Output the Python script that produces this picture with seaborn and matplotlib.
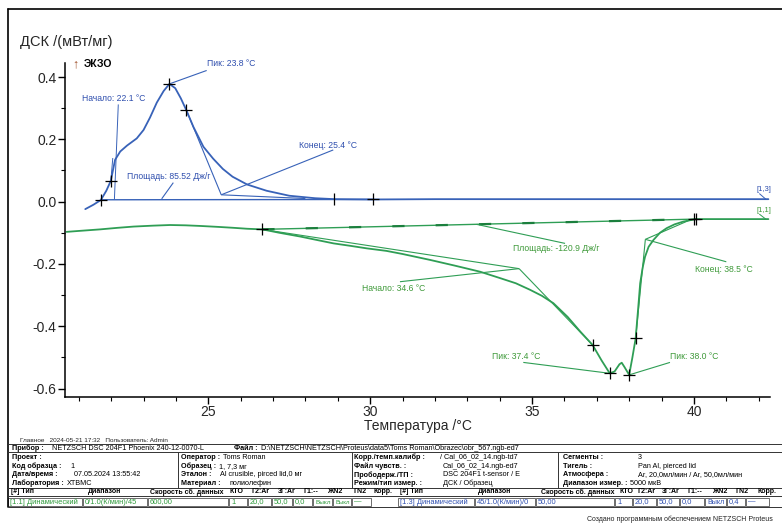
import numpy as np
import pandas as pd
import matplotlib
matplotlib.use("Agg")
import matplotlib.pyplot as plt
from matplotlib.ticker import MultipleLocator
import seaborn as sns

# ---- measured curves -------------------------------------------------------
# segment [1.3]: heating, exothermic peak
heat_temp = [21.20, 21.45, 21.68, 21.85, 21.99, 22.12, 22.28, 22.49, 22.79, 23.00,
             23.20, 23.41, 23.62, 23.80, 23.98, 24.15, 24.32, 24.54, 24.85, 25.15,
             25.45, 25.75, 26.20, 26.80, 27.50, 28.30, 28.90, 30.10, 32.00, 34.00,
             36.00, 38.00, 40.00, 42.30]
heat_dsc = [-0.024, -0.010, 0.005, 0.035, 0.067, 0.134, 0.161, 0.180, 0.203, 0.230,
            0.270, 0.318, 0.355, 0.378, 0.364, 0.332, 0.294, 0.240, 0.176, 0.138,
            0.105, 0.080, 0.055, 0.035, 0.019, 0.011, 0.008, 0.007, 0.008, 0.008,
            0.008, 0.008, 0.008, 0.008]

# segment [1.1]: dynamic 0/1.0 K/min, endothermic double peak
cool_temp = [20.62, 21.00, 21.66, 22.20, 22.69, 23.30, 23.82, 24.30, 24.75, 25.30,
             25.78, 26.20, 26.67, 27.20, 27.84, 28.40, 28.87, 29.40, 29.90, 30.50,
             31.00, 31.85, 32.60, 33.40, 34.00, 34.50, 34.94, 35.30, 35.66, 36.10,
             36.49, 36.87, 37.15, 37.40, 37.55, 37.70, 37.77, 37.85, 38.00, 38.10,
             38.20, 38.28, 38.34, 38.42, 38.49, 38.60, 38.75, 38.95, 39.16, 39.40,
             39.67, 40.06, 41.00, 42.30]
cool_dsc = [-0.097, -0.094, -0.089, -0.084, -0.080, -0.077, -0.075, -0.076, -0.078, -0.081,
            -0.084, -0.087, -0.089, -0.100, -0.112, -0.124, -0.134, -0.142, -0.150, -0.158,
            -0.168, -0.187, -0.205, -0.225, -0.245, -0.262, -0.283, -0.302, -0.326, -0.370,
            -0.417, -0.460, -0.510, -0.551, -0.545, -0.522, -0.517, -0.530, -0.556, -0.500,
            -0.439, -0.340, -0.262, -0.210, -0.177, -0.145, -0.123, -0.100, -0.085, -0.073,
            -0.064, -0.056, -0.056, -0.056]

# ---- evaluation results ----------------------------------------------------
heat_onset, heat_peak, heat_end, heat_area = 22.1, 23.8, 25.4, 85.52
heat_base = [0.006, 0.007]            # integration baseline level (start, end)
heat_base_t = [21.68, 30.10]
heat_infl = [21.99, 24.32]            # inflection points used for tangents

cool_onset, cool_end, cool_area = 34.6, 38.5, -120.9
cool_peaks = [37.4, 38.0]
cool_base_t = [26.67, 40.06]
cool_base = [-0.089, -0.056]
cool_infl = [36.87, 38.20]

x_ticks = [25, 30, 35, 40]
y_ticks = [-0.6, -0.4, -0.2, 0.0, 0.2, 0.4]

BLUE = "#3862b8"
BLUE_T = "#2f4fae"
GREEN = "#2f9e55"
GREEN_D = "#1b7f3d"
GREEN_T = "#3f9a3a"

sns.set_style("white")
plt.rcParams['font.family'] = ['Liberation Sans', 'DejaVu Sans']

W, H = 782, 524
fig = plt.figure(figsize=(W / 100, H / 100), dpi=100)

# page overlay in pixel units (frame, header and the info table)
ov = fig.add_axes([0, 0, 1, 1], zorder=0)
ov.set_xlim(0, W)
ov.set_ylim(H, 0)
ov.axis('off')

ax = fig.add_axes([65 / W, 127 / H, 705 / W, 334 / H], zorder=1)
ax.patch.set_alpha(0)

df = pd.concat([
    pd.DataFrame({'T': heat_temp, 'DSC': heat_dsc, 'seg': '[1,3]'}),
    pd.DataFrame({'T': cool_temp, 'DSC': cool_dsc, 'seg': '[1,1]'}),
], ignore_index=True)
sns.lineplot(data=df, x='T', y='DSC', hue='seg', palette={'[1,3]': BLUE, '[1,1]': GREEN},
             sort=False, estimator=None, legend=False, lw=1.3, ax=ax)


def seg(p, q, c, lw=0.8, **kw):
    ax.plot([p[0], q[0]], [p[1], q[1]], color=c, lw=lw, solid_capstyle='butt', **kw)


def on_heat(t):
    return float(np.interp(t, heat_temp, heat_dsc))


def on_cool(t):
    return float(np.interp(t, cool_temp, cool_dsc))


def cross(pts, marker='+', ms=9):
    xs, ys = zip(*pts)
    ax.plot(xs, ys, ls='none', marker=marker, color='black', ms=ms, mew=0.9, zorder=5)


# ---- heating evaluation ----------------------------------------------------
hb = heat_base[0]
seg((heat_base_t[0], heat_base[0]), (heat_base_t[1], heat_base[1]), BLUE, lw=1.0)
p_on = (heat_onset, hb + 0.001)
p_pk = (heat_peak, on_heat(heat_peak))
p_i2 = (heat_infl[1], on_heat(heat_infl[1]))
p_end = (heat_end, 0.022)
seg(p_on, (22.22, 0.312), BLUE, lw=0.7)
seg((heat_infl[0], on_heat(heat_infl[0])), (22.05, 0.14), BLUE, lw=0.7)
seg(p_pk, (24.95, 0.421), BLUE, lw=0.8)
seg(p_i2, p_end, BLUE, lw=0.8)
seg(p_end, (28.0, 0.010), BLUE, lw=0.8)
seg(p_end, (28.86, 0.166), BLUE, lw=0.8)
seg((23.56, hb + 0.003), (23.92, 0.061), BLUE, lw=0.8)
cross([(heat_base_t[0], on_heat(heat_base_t[0])), (heat_infl[0], on_heat(heat_infl[0])),
       p_pk, p_i2, (heat_base_t[1], heat_base[1])])
cross([(28.87, 0.008)], marker='|', ms=8)

lab = dict(fontsize=6.2, ha='left', va='center')
ax.text(24.95, 0.442, f"Пик: {heat_peak:.1f} °C", color=BLUE_T, **lab)
ax.text(21.09, 0.332, f"Начало: {heat_onset:.1f} °C", color=BLUE_T, **lab)
ax.text(22.50, 0.080, f"Площадь: {heat_area:.2f} Дж/г", color=BLUE_T, **lab)
ax.text(27.80, 0.179, f"Конец: {heat_end:.1f} °C", color=BLUE_T, **lab)
ax.text(41.94, 0.040, "[1,3]", color=BLUE_T, fontsize=5.5, ha='left', va='center')
seg((42.02, 0.026), (42.22, 0.008), BLUE, lw=0.7)

# ---- cooling evaluation ----------------------------------------------------
ax.plot(cool_base_t, cool_base, color=GREEN, lw=1.0)
ax.plot(cool_base_t, cool_base, color=GREEN_D, lw=1.6, ls=(0, (5.5, 14)))
c_on = (cool_onset, -0.215)
c_i1 = (cool_infl[0], on_cool(cool_infl[0]))
c_i2 = (cool_infl[1], on_cool(cool_infl[1]))
c_end = (cool_end, -0.121)
c_p1 = (cool_peaks[0], on_cool(cool_peaks[0]))
c_p2 = (cool_peaks[1], on_cool(cool_peaks[1]))
seg((cool_base_t[0], cool_base[0]), c_on, GREEN, lw=0.8)
seg(c_on, c_i1, GREEN, lw=0.8)
seg(c_on, (30.92, -0.257), GREEN, lw=0.8)
seg((33.29, -0.073), (36.02, -0.134), GREEN, lw=0.8)
seg(c_end, c_i2, GREEN, lw=0.8)
seg(c_end, (39.83, -0.061), GREEN, lw=0.8)
seg(c_end, (41.0, -0.193), GREEN, lw=0.8)
seg(c_p1, (34.73, -0.516), GREEN, lw=0.8)
seg(c_p2, (39.26, -0.516), GREEN, lw=0.8)
cross([(cool_base_t[0], cool_base[0]), c_i1, c_p1, c_p2, c_i2,
       (cool_base_t[1], cool_base[1]), (cool_base_t[1] - 0.06, cool_base[1])])

ax.text(34.42, -0.150, f"Площадь: {cool_area:.1f} Дж/г", color=GREEN_T, **lab)
ax.text(29.74, -0.278, f"Начало: {cool_onset:.1f} °C", color=GREEN_T, **lab)
ax.text(40.03, -0.217, f"Конец: {cool_end:.1f} °C", color=GREEN_T, **lab)
ax.text(33.76, -0.498, f"Пик: {cool_peaks[0]:.1f} °C", color=GREEN_T, **lab)
ax.text(39.27, -0.498, f"Пик: {cool_peaks[1]:.1f} °C", color=GREEN_T, **lab)
ax.text(41.94, -0.027, "[1,1]", color=GREEN_T, fontsize=5.5, ha='left', va='center')
seg((42.02, -0.040), (42.22, -0.056), GREEN, lw=0.7)

# ---- axes ------------------------------------------------------------------
ax.set_xlim(20.574, 42.35)
ax.set_ylim(-0.627, 0.445)
ax.set_xticks(x_ticks)
ax.set_yticks(y_ticks)
ax.set_yticklabels([f"{v:.1f}" for v in y_ticks])
ax.xaxis.set_minor_locator(MultipleLocator(1))
ax.yaxis.set_minor_locator(MultipleLocator(0.1))
sns.despine(ax=ax)
for s in ('left', 'bottom'):
    ax.spines[s].set_color('black')
    ax.spines[s].set_linewidth(1.1)
ax.tick_params(axis='both', which='major', direction='out', length=5, width=1,
               labelsize=10, color='black', left=True, bottom=True)
ax.tick_params(axis='both', which='minor', direction='out', length=3, width=0.8,
               color='black', left=True, bottom=True)
ax.tick_params(axis='x', pad=1)
ax.tick_params(axis='y', pad=1)
ax.set_xlabel("Температура /°C", fontsize=10, labelpad=-0.5)
ax.set_ylabel("ДСК /(мВт/мг)", fontsize=10.5, rotation=0, ha='left', va='center')
ax.yaxis.set_label_coords(-0.0638, 1.063)
ax.text(0.010, 0.997, "↑", transform=ax.transAxes, fontsize=9, color='#a0522d',
        ha='left', va='center')
ax.text(0.027, 0.997, "ЭКЗО", transform=ax.transAxes, fontsize=7.5, color='black',
        ha='left', va='center', fontweight='bold')

# ---- page frame ------------------------------------------------------------
ov.plot([8.3, W], [9.3, 9.3], color='black', lw=1.2)
ov.plot([8.3, 8.3], [9.3, 507], color='black', lw=1.2)
ov.text(20, 440, "Главное   2024-05-21 17:32   Пользователь: Admin", fontsize=4.6,
        ha='left', va='center', color='#222222')

# ---- info table ------------------------------------------------------------
fig.canvas.draw()
renderer = fig.canvas.get_renderer()
TS = 5.2


def right_of(t):
    """Right edge of a text in overlay (pixel) units."""
    bb = t.get_window_extent(renderer)
    return ov.transData.inverted().transform((bb.x1, bb.y0))[0]


def ttext(x, y, s, size=TS, bold=False, color='black'):
    return ov.text(x, y, s, fontsize=size, ha='left', va='center', color=color,
                   fontweight='bold' if bold else 'normal')


def pair(x, y, label, vx, value):
    """Bold field name followed by its value (kept clear of the name)."""
    t = ttext(x, y, label, bold=True)
    if value:
        ttext(max(vx, right_of(t) + 3), y, value)


def fit(t, x, limit):
    w = right_of(t) - x
    if w > limit - x > 0:
        t.set_fontsize(t.get_fontsize() * (limit - x) / w)


LC = '#333333'
for y in (444.3, 452.3, 487.7, 496.0, 507.0):
    ov.plot([8.3, W], [y, y], color=LC, lw=0.7)
for x in (178.3, 351.5, 558.3):
    ov.plot([x, x], [452.3, 487.7], color=LC, lw=0.7)

pair(12, 448.3, "Прибор :", 52, "NETZSCH DSC 204F1 Phoenix 240-12-0070-L")
pair(234, 448.3, "Файл :", 256,
     "D:\\NETZSCH\\NETZSCH\\Proteus\\data5\\Toms Roman\\Obrazec\\obr_567.ngb-ed7")

rows_y = [457.7, 466.7, 475.0, 483.3]
blocks = [
    (12, ["Проект :", "Код образца :", "Дата/время :", "Лаборатория :"],
     [(0, ""), (70, "1"), (74, "07.05.2024 13:55:42"), (67, "XTBMC")]),
    (181, ["Оператор :", "Образец :", "Эталон :", "Материал :"],
     [(212, "Toms Roman"), (212, "1, 7,3 мг"), (220, "Al crusible, pirced lid,0 мг"),
      (229, "полиолефин")]),
    (354, ["Корр./темп.калибр :", "Файл чувств. :", "Прободерж./ТП :", "Режим/тип измер. :"],
     [(440, "/ Cal_06_02_14.ngb-td7"), (443, "Cal_06_02_14.ngb-ed7"),
      (443, "DSC 204F1 t-sensor / E"), (443, "ДСК / Образец")]),
    (563, ["Сегменты :", "Тигель :", "Атмосфера :", "Диапазон измер. :"],
     [(638, "3"), (638, "Pan Al, pierced lid"), (638, "Ar, 20,0мл/мин / Ar, 50,0мл/мин"),
      (630, "5000 мкВ")]),
]
for x0, labels, values in blocks:
    for y, l, (vx, v) in zip(rows_y, labels, values):
        pair(x0, y, l, vx, v)

head = ["[#] Тип", "Диапазон", "Скорость сб. данных", "КТО", "Г2:Ar", "3Г:Ar",
        "Г1:--", "ЖN2", "ГN2", "Корр."]
head_x_left = [11, 88, 150, 230, 251, 278, 303, 327, 354, 373]
head_x_right = [400, 478, 541, 619, 637, 662, 687, 712, 736, 757]
for xs, end in ((head_x_left, 397), (head_x_right, 781)):
    for i, (hx, h) in enumerate(zip(xs, head)):
        lim = xs[i + 1] - 2 if i + 1 < len(xs) else end
        fit(ttext(hx, 491.8, h, size=5.0, bold=True), hx, lim)

cells_left = [(8.3, 83, "[1.1] Динамический"), (83, 148, "0/1.0(К/мин)/45"), (148, 229, "600,00"),
              (229, 248, "1"), (248, 272, "20,0"), (272, 293, "50,0"), (293, 313, "0,0"),
              (313, 333, "Выкл"), (333, 352, "Выкл"), (352, 372, "—")]
cells_right = [(398, 475, "[1.3] Динамический"), (475, 536, "45/1.0(К/мин)/0"), (536, 615, "50,00"),
               (615, 633, "1"), (633, 657, "20,0"), (657, 680, "50,0"), (680, 705, "0,0"),
               (705, 727, "Выкл"), (727, 746, "0,4"), (746, 770, "—")]
for cells, col in ((cells_left, '#2e9a3c'), (cells_right, '#3050b0')):
    for x0, x1, t in cells:
        ov.add_patch(plt.Rectangle((x0, 497.6), x1 - x0 - 1.5, 8.6, fill=False,
                                   ec='#555555', lw=0.6))
        fit(ttext(x0 + 2, 502.0, t, size=5.4, color=col), x0 + 2, x1 - 2.5)

ov.text(587, 519.5, "Создано программным обеспечением NETZSCH Proteus", fontsize=5,
        ha='left', va='center', color='#222222')

fig.savefig("out.png", dpi=100)
